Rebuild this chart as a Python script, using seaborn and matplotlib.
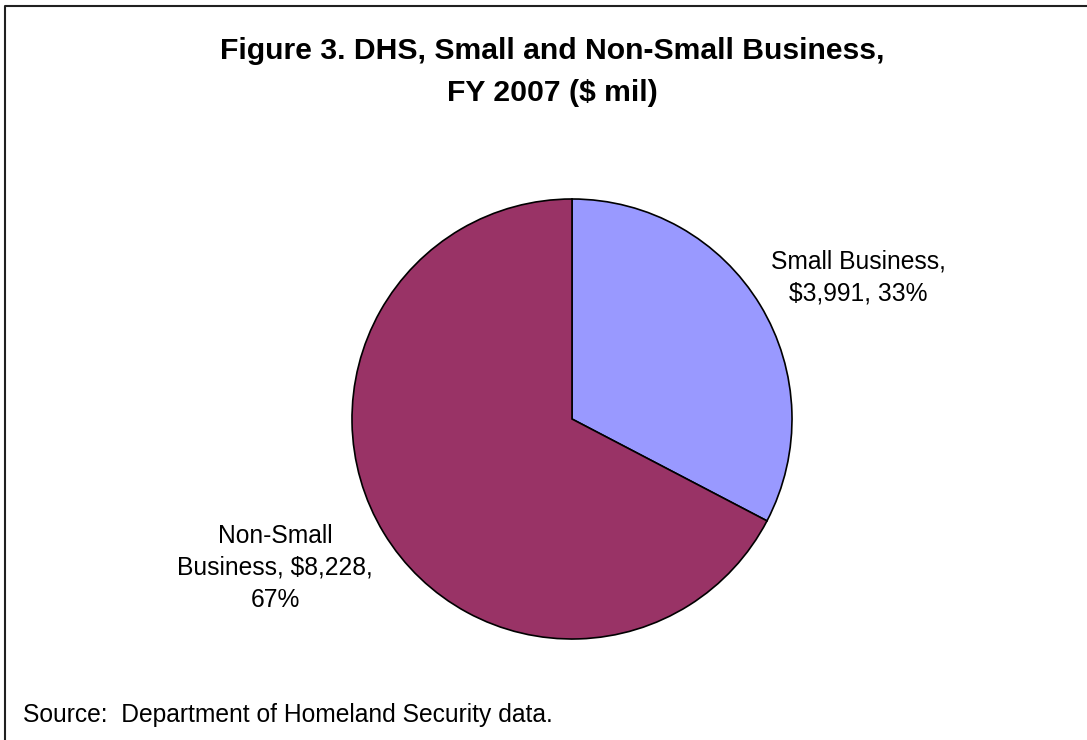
import textwrap
import matplotlib
matplotlib.use("Agg")
import matplotlib.pyplot as plt
from matplotlib.lines import Line2D
import seaborn as sns

# ---- data ----
categories = ["Small Business", "Non-Small Business"]
values = [3991, 8228]          # $ millions, FY 2007
percents = [33, 67]
title_lines = ["Figure 3. DHS, Small and Non-Small Business,", "FY 2007 ($ mil)"]
source_text = "Source:  Department of Homeland Security data."

sns.set_theme(style="white")
plt.rcParams["font.family"] = ["Liberation Sans", "DejaVu Sans"]
palette = sns.color_palette(["#9999FF", "#993366"])

W, H = 1087, 740
fig = plt.figure(figsize=(W / 100, H / 100), dpi=100)
fig.patch.set_facecolor("white")

# pie axes: centre (572, 419) px, radius 220 px
cx, cy, r = 572, 419, 220
ax = fig.add_axes([(cx - r) / W, 1 - (cy + r) / H, 2 * r / W, 2 * r / H])
ax.pie(values, colors=palette, startangle=90, counterclock=False, radius=1,
       wedgeprops=dict(edgecolor="black", linewidth=1.2))
ax.set_xlim(-1, 1)
ax.set_ylim(-1, 1)
ax.set_aspect("equal")
ax.axis("off")

# data labels (x centre, first baseline) in data units (1 unit = radius)
label_pos = [((858.6 - cx) / r, (cy - 269) / r), ((275 - cx) / r, (cy - 543) / r)]
line_step = 32.0 / r
for cat, val, pct, (lx, ly) in zip(categories, values, percents, label_pos):
    txt = f"{cat}, ${val:,}, {pct}%"
    for i, line in enumerate(textwrap.wrap(txt, width=17)):
        ax.text(lx, ly - i * line_step, line, ha="center", va="baseline",
                fontsize=17.7, color="black", clip_on=False)

# title
for y_px, line in zip([59, 101], title_lines):
    fig.text(552.5 / W, 1 - y_px / H, line, ha="center", va="baseline",
             fontsize=21.7, fontweight="bold", color="black")

# source note
fig.text(23 / W, 1 - 722 / H, source_text, ha="left", va="baseline",
         fontsize=17.7, color="black")

# chart frame (top and left edges visible)
fx, fy = 4.5 / W, 1 - 6 / H
fig.add_artist(Line2D([fx, fx, 1.0], [0.0, fy, fy], transform=fig.transFigure,
                      color="#202020", linewidth=1.5))

fig.savefig("out.png", dpi=100, facecolor="white")
